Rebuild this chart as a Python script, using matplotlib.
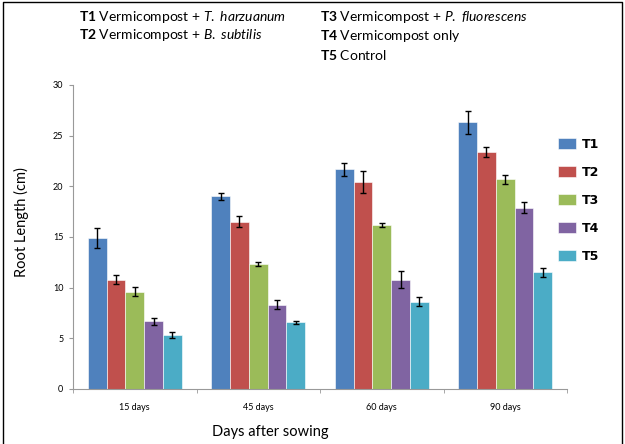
import numpy as np
import matplotlib
matplotlib.use('Agg')
import matplotlib.pyplot as plt
from matplotlib.lines import Line2D

days = ['15 days', '45 days', '60 days', '90 days']
treatments = ['T1', 'T2', 'T3', 'T4', 'T5']
t1 = [14.9, 19.0, 21.7, 26.3]
t2 = [10.8, 16.5, 20.4, 23.4]
t3 = [9.6, 12.3, 16.2, 20.7]
t4 = [6.7, 8.3, 10.8, 17.9]
t5 = [5.3, 6.6, 8.6, 11.5]
err1 = [0.95, 0.35, 0.65, 1.15]
err2 = [0.4, 0.55, 1.1, 0.5]
err3 = [0.45, 0.2, 0.2, 0.45]
err4 = [0.35, 0.45, 0.8, 0.55]
err5 = [0.3, 0.15, 0.45, 0.45]
colors = ['#4F81BD', '#C0504D', '#9BBB59', '#8064A2', '#4BACC6']

plt.rcParams['font.family'] = ['Lato', 'DejaVu Sans']
plt.rcParams['mathtext.fontset'] = 'custom'
plt.rcParams['mathtext.rm'] = 'Lato'
plt.rcParams['mathtext.it'] = 'Lato:italic'
plt.rcParams['mathtext.bf'] = 'Lato:bold'

fig = plt.figure(figsize=(6.25, 4.44), dpi=100)
ax = fig.add_axes([0.1168, 0.1239, 0.7904, 0.6847])

x = np.arange(len(days))
w = 0.152
series = [t1, t2, t3, t4, t5]
errs = [err1, err2, err3, err4, err5]
for i, (vals, e) in enumerate(zip(series, errs)):
    pos = x + (i - 2) * w
    ax.bar(pos, vals, w, color=colors[i], edgecolor='white', linewidth=0.4, label=treatments[i])
    ax.errorbar(pos, vals, yerr=e, fmt='none', ecolor='black', elinewidth=1, capsize=2.2, capthick=1)

ax.set_xlim(-0.5, 3.5)
ax.set_ylim(0, 30)
ax.set_yticks([0, 5, 10, 15, 20, 25, 30])
ax.tick_params(axis='y', labelsize=6.5, length=3, color='#999999', pad=4)
ax.set_xticks(x)
ax.set_xticklabels(days, fontsize=6.5)
ax.tick_params(axis='x', length=0, pad=10)
ax.set_xticks([-0.5, 0.5, 1.5, 2.5, 3.5], minor=True)
ax.tick_params(axis='x', which='minor', length=3, color='#999999')
for s in ['top', 'right']:
    ax.spines[s].set_visible(False)
for s in ['left', 'bottom']:
    ax.spines[s].set_color('#999999')

fig.text(0.035, 0.5, 'Root Length (cm)', rotation=90, va='center', ha='center', fontsize=10.5)
fig.text(0.432, 0.028, 'Days after sowing', ha='center', va='center', fontsize=10.5)

fig.text(0.126, 0.962, r'$\mathbf{T1}$ Vermicompost + $\mathit{T.\ harzuanum}$', fontsize=10, va='center')
fig.text(0.126, 0.921, r'$\mathbf{T2}$ Vermicompost + $\mathit{B.\ subtilis}$', fontsize=10, va='center')
fig.text(0.512, 0.962, r'$\mathbf{T3}$ Vermicompost + $\mathit{P.\ fluorescens}$', fontsize=10, va='center')
fig.text(0.512, 0.918, r'$\mathbf{T4}$ Vermicompost only', fontsize=10, va='center')
fig.text(0.512, 0.876, r'$\mathbf{T5}$ Control', fontsize=10, va='center')

handles, labels = ax.get_legend_handles_labels()
leg = fig.legend(handles, labels, loc='upper left', bbox_to_anchor=(0.875, 0.715),
                 frameon=False, handlelength=1.4, handleheight=0.9, handletextpad=0.5,
                 labelspacing=1.2, prop={'family': 'DejaVu Sans', 'weight': 'bold', 'size': 9})

fig.add_artist(Line2D([0.004, 0.004, 0.995, 0.995], [0.0, 0.996, 0.996, 0.0],
                      transform=fig.transFigure, color='black', linewidth=1))

fig.savefig('out.png', dpi=100)
